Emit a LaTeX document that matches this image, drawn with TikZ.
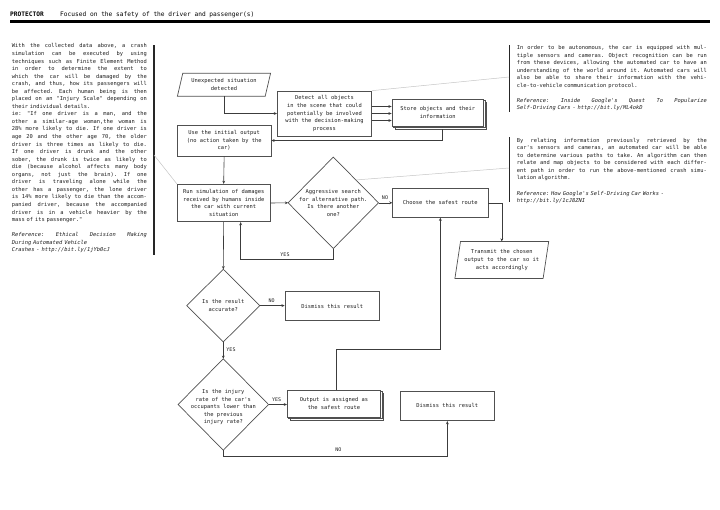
\documentclass[tikz,border=0pt]{standalone}
\usepackage{fontspec}
\setmonofont{DejaVu Sans Mono}
\usetikzlibrary{arrows.meta,calc,shadows}
\definecolor{boxc}{HTML}{505050}
\definecolor{linec}{HTML}{3C3C3C}
\definecolor{notec}{HTML}{C4C4C4}
\definecolor{txtc}{HTML}{1E1E1E}
\newcommand\mytxt{\ttfamily\fontsize{5.4}{7.55}\selectfont\frenchspacing}
\newcommand\mysmall{\ttfamily\fontsize{5}{6}\selectfont}
\newcommand\myhdr{\ttfamily\fontsize{6.2}{7.5}\selectfont}
\newcommand\Jfill[2]{{\spaceskip=\fontdimen2\font plus 1fil\relax\makebox[#1][s]{#2}}}
\newcommand\LJ[1]{\Jfill{135pt}{#1}}
\newcommand\RJ[1]{\Jfill{190pt}{#1}}
\tikzset{
  lbl/.style={font=\mytxt, text=txtc, inner sep=0pt, align=center},
  box/.style={lbl, draw=boxc, line width=0.7pt, fill=white},
  frame/.style={draw=boxc, line width=0.7pt},
  arr/.style={draw=linec, line width=0.6pt, -{Stealth[length=3.2pt,width=2.8pt]}},
  ln/.style={draw=linec, line width=0.6pt},
  note/.style={draw=notec, line width=0.5pt},
  bar/.style={draw=black!85, line width=1.2pt},
  txtblk/.style={font=\mytxt, text=txtc, inner sep=0pt, align=left, anchor=north west},
  elab/.style={font=\mysmall, text=txtc, inner sep=0pt},
  hdr/.style={font=\myhdr, text=black, inner sep=0pt, anchor=base west},
  stack/.style={box, double copy shadow={shadow xshift=1.5pt, shadow yshift=-1.5pt}}
}
\begin{document}
\begin{tikzpicture}[x=1pt,y=-1pt]
\useasboundingbox (0,0) rectangle (720,509);

% header
\node[hdr] (hd1) at (10,16) {\bfseries PROTECTOR};
\node[hdr] (hd2) at (60,16) {Focused on the safety of the driver and passenger(s)};
\draw[line width=2.4pt, black] (10,21.3) -- (710,21.3);

% text blocks
\node[txtblk, text width=135pt] (leftblk) at (11.7,43.6) {%
\LJ{With the collected data above, a crash}\\
\LJ{simulation can be executed by using}\\
\LJ{techniques such as Finite Element Method}\\
\LJ{in order to determine the extent to}\\
\LJ{which the car will be damaged by the}\\
\LJ{crash, and thus, how its passengers will}\\
\LJ{be affected. Each human being is then}\\
\LJ{placed on an "Injury Scale" depending on}\\
their individual details.\\
\LJ{ie: "If one driver is a man, and the}\\
\LJ{other a similar-age woman,the woman is}\\
\LJ{28\% more likely to die. If one driver is}\\
\LJ{age 20 and the other age 70, the older}\\
\LJ{driver is three times as likely to die.}\\
\LJ{If one driver is drunk and the other}\\
\LJ{sober, the drunk is twice as likely to}\\
\LJ{die (because alcohol affects many body}\\
\LJ{organs, not just the brain). If one}\\
\LJ{driver is traveling alone while the}\\
\LJ{other has a passenger, the lone driver}\\
\LJ{is 14\% more likely to die than the accom-}\\
\LJ{panied driver, because the accompanied}\\
\LJ{driver is in a vehicle heavier by the}\\
mass of its passenger."\\
\mbox{}\\
\LJ{\itshape Reference: Ethical Decision Making}\\
{\itshape During Automated Vehicle}\\
{\itshape Crashes - http://bit.ly/1jYb0cJ}};

\node[txtblk, text width=190pt] (rightblk1) at (516.7,45.2) {%
\RJ{In order to be autonomous, the car is equipped with mul-}\\
\RJ{tiple sensors and cameras. Object recognition can be run}\\
\RJ{from these devices, allowing the automated car to have an}\\
\RJ{understanding of the world around it. Automated cars will}\\
\RJ{also be able to share their information with the vehi-}\\
cle-to-vehicle communication protocol.\\
\mbox{}\\
\RJ{\itshape Reference: Inside Google's Quest To Popularize}\\
{\itshape Self-Driving Cars - http://bit.ly/ML4okD}};

\node[txtblk, text width=190pt] (rightblk2) at (516.7,137.9) {%
\RJ{By relating information previously retrieved by the}\\
\RJ{car's sensors and cameras, an automated car will be able}\\
\RJ{to determine various paths to take. An algorithm can then}\\
\RJ{relate and map objects to be considered with each differ-}\\
\RJ{ent path in order to run the above-mentioned crash simu-}\\
lation algorithm.\\
\mbox{}\\
{\itshape Reference: How Google's Self-Driving Car Works -}\\
{\itshape http://bit.ly/1cJ8ZNI}};

\draw[bar] (154,45) -- (154,255);
\draw[bar] (509.5,45) -- (509.5,112);
\draw[bar] (509.5,137) -- (509.5,202);
\coordinate (lb) at (154,155);
\coordinate (rb1) at (509,77);
\coordinate (rb2) at (509,168);

% flowchart nodes
\node[lbl, minimum width=87.4pt, minimum height=22.7pt] (unexp) at (224,84.7) {Unexpected situation\\detected};
\draw[frame] ($(unexp.north west)+(2.7,0)$) -- ($(unexp.north east)+(2.7,0)$) -- ($(unexp.south east)+(-2.7,0)$) -- ($(unexp.south west)+(-2.7,0)$) -- cycle;

\node[box, minimum width=94.4pt, minimum height=45pt] (detect) at (324.5,113.5) {Detect all objects\\in the scene that could\\potentially be involved\\with the decision-making\\process};

\node[stack, minimum width=91.5pt, minimum height=27pt] (store) at (437.75,112.5) {Store objects and their\\information};

\node[box, minimum width=93.7pt, minimum height=31pt] (useinit) at (224.15,140.5) {Use the initial output\\(no action taken by the\\car)};

\node[box, minimum width=92.7pt, minimum height=37.4pt] (runsim) at (223.65,203) {Run simulation of damages\\received by humans inside\\the car with current\\situation};

\node[lbl, minimum width=90pt, minimum height=91pt] (search) at (333.3,202.8) {Aggressive search\\for alternative path.\\Is there another\\one?};
\draw[frame] (search.north) -- (search.east) -- (search.south) -- (search.west) -- cycle;

\node[box, minimum width=95.3pt, minimum height=29pt] (choose) at (440.35,202.8) {Choose the safest route};

\node[lbl, minimum width=87.8pt, minimum height=36.6pt] (transmit) at (501.8,260) {Transmit the chosen\\output to the car so it\\acts accordingly};
\draw[frame] ($(transmit.north west)+(2.8,0)$) -- ($(transmit.north east)+(2.8,0)$) -- ($(transmit.south east)+(-2.8,0)$) -- ($(transmit.south west)+(-2.8,0)$) -- cycle;

\node[lbl, minimum width=72.7pt, minimum height=72.2pt] (accurate) at (223.3,305.6) {Is the result\\accurate?};
\draw[frame] (accurate.north) -- (accurate.east) -- (accurate.south) -- (accurate.west) -- cycle;

\node[box, minimum width=94.3pt, minimum height=29pt] (dismiss1) at (332.15,306.2) {Dismiss this result};

\node[lbl, minimum width=90pt, minimum height=91pt] (injury) at (223.3,404.5) {};
\draw[frame] (injury.north) -- (injury.east) -- (injury.south) -- (injury.west) -- cycle;
\node[lbl] (injurytxt) at (223.3,407.4) {Is the injury\\rate of the car's\\occupants lower than\\the previous\\injury rate?};

\node[stack, minimum width=93.4pt, minimum height=27.3pt] (output) at (334,403.65) {Output is assigned as\\the safest route};

\node[box, minimum width=93.3pt, minimum height=29.7pt] (dismiss2) at (447.35,405.85) {Dismiss this result};

% connectors
\draw[arr] (unexp.south) |- (detect.west);
\foreach \d in {-7,0,7}
  \draw[arr] ($(detect.east)+(0,\d)$) -- ($(detect.east -| store.west)+(0,\d)$);
\draw[arr] ($(store.south)+(4.5,3)$) |- (useinit.east);
\draw[arr] (useinit.south) -- (runsim.north);
\draw[arr] (runsim.east) -- (search.west);
\draw[arr] (search.south) -- ++(0,10.7) -| ($(runsim.south)+(17,0)$);
\node[elab] (yes1) at (285,255) {YES};
\draw[arr] (search.east) -- (search.east -| choose.west);
\node[elab] (no1) at (385,197.5) {NO};
\draw[arr] (choose.east) -| (transmit.north);
\draw[arr] (runsim.south) -- (accurate.north);
\draw[arr] (accurate.east) -- (accurate.east -| dismiss1.west);
\node[elab] (no2) at (271.7,300.5) {NO};
\draw[arr] (accurate.south) -- (injury.north);
\node[elab] (yes2) at (231,350) {YES};
\draw[arr] (injury.east) -- (injury.east -| output.west);
\node[elab] (yes3) at (276.7,399.5) {YES};
\draw[arr] (injury.south) -- ++(0,6) -| (dismiss2.south);
\node[elab] (no3) at (338.3,449.5) {NO};
\draw[arr] ($(output.north)+(2.5,0)$) -- ++(0,-40) -| (choose.south);

% annotation lines
\draw[note] (detect.north east) -- (rb1);
\draw[note] (lb) -- (runsim.north west);
\draw[note] ($(search.north)!0.5!(search.east)$) -- (rb2);
\end{tikzpicture}
\end{document}
